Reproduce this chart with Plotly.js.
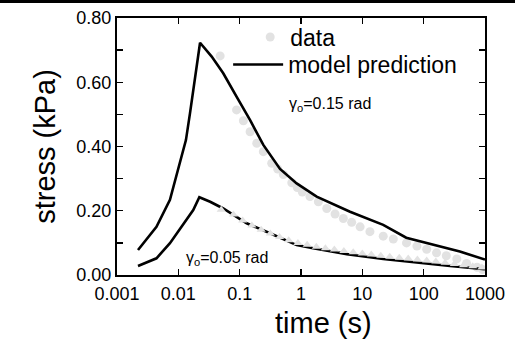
<!DOCTYPE html>
<html>
<head>
<meta charset="utf-8">
<script src="https://cdn.plot.ly/plotly-3.0.1.min.js"></script>
<style>
  html, body { margin: 0; padding: 0; background: #fff; }
  #topbar { position: absolute; top: 0; left: 0; width: 515px; height: 3px; background: #000; z-index: 10; }
  #chart { width: 515px; height: 341px; }
</style>
</head>
<body>
<div id="topbar"></div>
<div id="chart"></div>
<script>
// ---- data ----
// gamma_o = 0.15 rad, model prediction
const modelHighT = [0.0022, 0.0044, 0.0073, 0.0100, 0.0133, 0.0155, 0.0226, 0.035, 0.054, 0.089, 0.148, 0.243, 0.455, 0.85, 1.8, 6.3, 21.9, 52, 160, 389, 1000];
const modelHighS = [0.078, 0.150, 0.234, 0.327, 0.420, 0.504, 0.723, 0.680, 0.628, 0.555, 0.482, 0.405, 0.330, 0.285, 0.244, 0.197, 0.156, 0.116, 0.091, 0.073, 0.048];
// gamma_o = 0.15 rad, data
const dataHighT = [0.048, 0.089, 0.115, 0.148, 0.19, 0.243, 0.333, 0.417, 0.515, 0.708, 0.87, 1.05, 1.4, 1.92, 2.63, 3.59, 4.9, 6.7, 9.2, 13.3, 21.9, 32, 52.5, 77.6, 112, 162, 234, 347, 501, 741, 912];
const dataHighS = [0.682, 0.514, 0.480, 0.446, 0.410, 0.384, 0.348, 0.330, 0.313, 0.287, 0.272, 0.258, 0.244, 0.228, 0.207, 0.190, 0.176, 0.164, 0.150, 0.135, 0.121, 0.112, 0.100, 0.090, 0.080, 0.069, 0.060, 0.050, 0.036, 0.024, 0.017];
// gamma_o = 0.05 rad, model prediction
const modelLowT = [0.0022, 0.0044, 0.0073, 0.0113, 0.0175, 0.022, 0.033, 0.054, 0.13, 0.313, 0.85, 1.58, 5.6, 21.9, 78, 270, 1000];
const modelLowS = [0.028, 0.052, 0.099, 0.150, 0.202, 0.242, 0.228, 0.207, 0.161, 0.130, 0.093, 0.083, 0.065, 0.050, 0.038, 0.028, 0.018];
// gamma_o = 0.05 rad, data
const dataLowT = [0.05, 0.079, 0.112, 0.158, 0.224, 0.316, 0.447, 0.63, 0.89, 1.26, 1.78, 2.5, 3.5, 5.0, 7.1, 10, 14, 20, 28, 40, 56, 79, 112, 158, 224, 316, 447, 631, 891];
const dataLowS = [0.203, 0.188, 0.170, 0.154, 0.141, 0.129, 0.118, 0.108, 0.100, 0.094, 0.088, 0.083, 0.079, 0.075, 0.071, 0.067, 0.064, 0.060, 0.057, 0.054, 0.051, 0.048, 0.045, 0.042, 0.038, 0.034, 0.030, 0.027, 0.023];

const xTickVals = [0.001, 0.01, 0.1, 1, 10, 100, 1000];
const xTickText = ['0.001', '0.01', '0.1', '1', '10', '100', '1000'];
const yTickVals = [0, 0.2, 0.4, 0.6, 0.8];
const yTickText = ['0.00', '0.20', '0.40', '0.60', '0.80'];

const FONT = 'Liberation Sans, Arial, Helvetica, sans-serif';
const dotGray = '#e2e2e2';

const traces = [
  { x: dataHighT, y: dataHighS, mode: 'markers', name: 'data', legend: 'legend',
    marker: { symbol: 'circle', size: 9, color: dotGray }, showlegend: true },
  { x: modelHighT, y: modelHighS, mode: 'lines', name: 'model prediction', legend: 'legend2',
    line: { color: '#000', width: 2.6 }, showlegend: true },
  { x: modelLowT, y: modelLowS, mode: 'lines', name: 'model 0.05',
    line: { color: '#000', width: 2.6 }, showlegend: false },
  { x: dataLowT, y: dataLowS, mode: 'markers', name: 'data 0.05',
    marker: { symbol: 'triangle-up', size: 8, color: dotGray }, showlegend: false }
];

const legendFont = { size: 23, family: FONT, color: '#000' };

const layout = {
  width: 515, height: 341,
  margin: { l: 117, r: 30, t: 18, b: 66 },
  paper_bgcolor: '#fff', plot_bgcolor: '#fff',
  font: { family: FONT, color: '#000' },
  showlegend: true,
  legend: {
    x: 0.362, y: 0.926, xanchor: 'left', yanchor: 'middle',
    bgcolor: 'rgba(0,0,0,0)', borderwidth: 0, font: legendFont
  },
  legend2: {
    x: 0.302, y: 0.819, xanchor: 'left', yanchor: 'middle', itemwidth: 50,
    bgcolor: 'rgba(0,0,0,0)', borderwidth: 0, font: legendFont
  },
  xaxis: {
    type: 'log', range: [-3, 3],
    tickmode: 'array', tickvals: xTickVals, ticktext: xTickText,
    ticks: 'inside', ticklen: 6, tickwidth: 1.3, tickcolor: '#000',
    showline: true, linewidth: 2, linecolor: '#000', mirror: 'ticks',
    showgrid: false, zeroline: false,
    tickfont: { size: 18, family: FONT },
    ticklabelstandoff: 1
  },
  yaxis: {
    range: [0, 0.8],
    tickmode: 'array', tickvals: yTickVals, ticktext: yTickText,
    ticks: 'inside', ticklen: 6, tickwidth: 1.3, tickcolor: '#000',
    minor: { tickmode: 'linear', tick0: 0, dtick: 0.1, ticks: 'inside', ticklen: 6, tickwidth: 1.3, tickcolor: '#000', showgrid: false },
    showline: true, linewidth: 2, linecolor: '#000', mirror: 'ticks',
    showgrid: false, zeroline: false,
    tickfont: { size: 18, family: FONT },
    title: { text: 'stress (kPa)', font: { size: 29, family: FONT }, standoff: 12 }
  },
  annotations: [
    { xref: 'paper', yref: 'paper', x: 0.56, y: -0.185, xanchor: 'center', yanchor: 'middle',
      text: 'time (s)', showarrow: false, font: { size: 29, family: FONT } },
    { xref: 'paper', yref: 'paper', x: 0.463, y: 0.665, xanchor: 'left', yanchor: 'middle',
      text: 'γ<sub>o</sub>=0.15 rad', showarrow: false, font: { size: 16, family: FONT } },
    { xref: 'paper', yref: 'paper', x: 0.183, y: 0.066, xanchor: 'left', yanchor: 'middle',
      text: 'γ<sub>o</sub>=0.05 rad', showarrow: false, font: { size: 16, family: FONT } }
  ]
};

Plotly.newPlot('chart', traces, layout, { displayModeBar: false, staticPlot: true });
</script>
</body>
</html>
